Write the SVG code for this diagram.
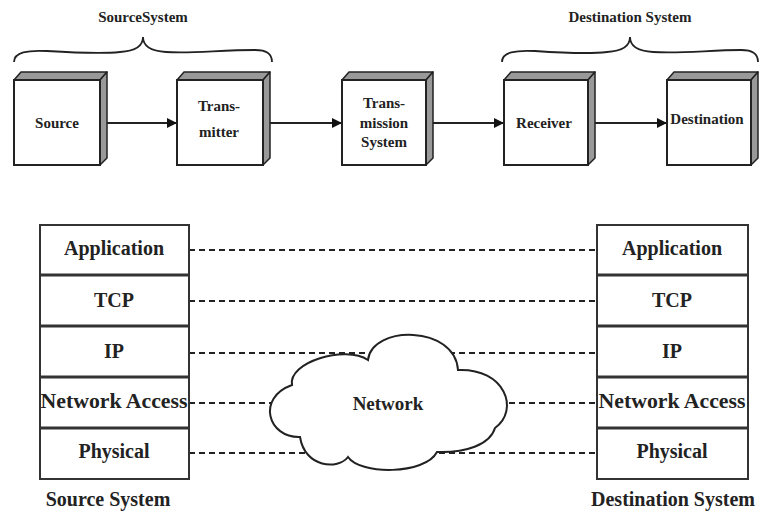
<svg xmlns="http://www.w3.org/2000/svg" width="760" height="512" viewBox="0 0 760 512">
<defs>
<style>
text{font-family:"Liberation Serif","Times New Roman",serif;font-weight:bold;fill:#222;text-anchor:middle}
.bt{font-size:15px}
.lt{font-size:20px}
.front{fill:#fff;stroke:#222;stroke-width:2}
.bev{fill:#999;stroke:#222;stroke-width:1.5;stroke-linejoin:round}
.stack{fill:#fff;stroke:#333;stroke-width:2}
.div{stroke:#333;stroke-width:3}
.dash{stroke:#222;stroke-width:2;stroke-dasharray:6 4;fill:none}
.arr{stroke:#222;stroke-width:2;fill:none}
.brace{stroke:#222;stroke-width:1.8;fill:none}
</style>
<marker id="ah" viewBox="0 0 10 10" refX="10" refY="5" markerWidth="10" markerHeight="10" markerUnits="userSpaceOnUse" orient="auto">
<path d="M0,0 L10,5 L0,10 z" fill="#111"/>
</marker>
</defs>
<rect width="760" height="512" fill="#fff"/>

<g id="connectors">
<line class="arr" x1="107" y1="123" x2="177" y2="123" marker-end="url(#ah)"/>
<line class="arr" x1="270" y1="123" x2="342" y2="123" marker-end="url(#ah)"/>
<line class="arr" x1="433" y1="123" x2="504" y2="123" marker-end="url(#ah)"/>
<line class="arr" x1="595" y1="123" x2="667" y2="123" marker-end="url(#ah)"/>
<line class="dash" x1="189" y1="250" x2="597" y2="250"/>
<line class="dash" x1="189" y1="301" x2="597" y2="301"/>
<line class="dash" x1="189" y1="353" x2="597" y2="353"/>
<line class="dash" x1="189" y1="403" x2="597" y2="403"/>
<line class="dash" x1="189" y1="453" x2="597" y2="453"/>
</g>

<g id="braces">
<path class="brace" d="M14,62 C14,52 28,50 47,51 C80,53 100,54 120,52 C136,51 143,46 143,37 C143,46 150,51 166,52 C190,54 220,50 255,50 C266,50 272,53 272,62"/>
<text x="143" y="22" class="bt">SourceSystem</text>
<path class="brace" d="M502,62 C502,52 516,50 535,51 C565,53 590,54 607,52 C623,51 630,46 630,37 C630,46 637,51 653,52 C680,54 710,50 741,50 C752,50 758,53 758,62"/>
<text x="630" y="22" class="bt">Destination System</text>
</g>

<g id="source">
<polygon class="bev" points="14,80 21,72 107,72 100,80"/>
<polygon class="bev" points="100,80 107,72 107,158 100,165"/>
<rect class="front" x="14" y="80" width="86" height="85"/>
<text x="57" y="128" class="bt">Source</text>
</g>
<g id="transmitter">
<polygon class="bev" points="177,80 184,72 270,72 263,80"/>
<polygon class="bev" points="263,80 270,72 270,158 263,165"/>
<rect class="front" x="177" y="80" width="86" height="85"/>
<text x="219" y="111" class="bt">Trans-</text>
<text x="219" y="137" class="bt">mitter</text>
</g>
<g id="transmission">
<polygon class="bev" points="342,80 349,72 433,72 426,80"/>
<polygon class="bev" points="426,80 433,72 433,158 426,165"/>
<rect class="front" x="342" y="80" width="84" height="85"/>
<text x="384" y="108" class="bt">Trans-</text>
<text x="384" y="128" class="bt">mission</text>
<text x="384" y="147" class="bt">System</text>
</g>
<g id="receiver">
<polygon class="bev" points="504,80 511,72 595,72 588,80"/>
<polygon class="bev" points="588,80 595,72 595,158 588,165"/>
<rect class="front" x="504" y="80" width="84" height="85"/>
<text x="544" y="128" class="bt">Receiver</text>
</g>
<g id="destination">
<polygon class="bev" points="667,80 674,72 758,72 751,80"/>
<polygon class="bev" points="751,80 758,72 758,158 751,165"/>
<rect class="front" x="667" y="80" width="84" height="85"/>
<text x="707" y="124" class="bt">Destination</text>
</g>

<g id="network">
<path d="M300,437 C268,438 256,398 292,385 C288,362 345,345 368,360 C372,325 455,325 458,370 C505,368 520,410 495,428 C490,445 465,453 437,452 C425,475 360,475 348,457 C338,470 305,468 300,437 Z" fill="#fff" stroke="#222" stroke-width="2"/>
<text x="388" y="410" class="lt" style="font-size:19px">Network</text>
</g>

<g id="source-stack">
<rect class="stack" x="40" y="225" width="149" height="254"/>
<line class="div" x1="40" y1="275" x2="189" y2="275"/>
<line class="div" x1="40" y1="326" x2="189" y2="326"/>
<line class="div" x1="40" y1="377" x2="189" y2="377"/>
<line class="div" x1="40" y1="428" x2="189" y2="428"/>
<text x="114" y="255" class="lt">Application</text>
<text x="114" y="307" class="lt">TCP</text>
<text x="114" y="358" class="lt">IP</text>
<text x="114" y="408" class="lt" textLength="147" lengthAdjust="spacingAndGlyphs">Network Access</text>
<text x="114" y="458" class="lt">Physical</text>
<text x="108" y="506" class="lt">Source System</text>
</g>

<g id="destination-stack">
<rect class="stack" x="597" y="225" width="151" height="254"/>
<line class="div" x1="597" y1="275" x2="748" y2="275"/>
<line class="div" x1="597" y1="326" x2="748" y2="326"/>
<line class="div" x1="597" y1="377" x2="748" y2="377"/>
<line class="div" x1="597" y1="428" x2="748" y2="428"/>
<text x="672" y="255" class="lt">Application</text>
<text x="672" y="307" class="lt">TCP</text>
<text x="672" y="358" class="lt">IP</text>
<text x="672" y="408" class="lt" textLength="147" lengthAdjust="spacingAndGlyphs">Network Access</text>
<text x="672" y="458" class="lt">Physical</text>
<text x="673" y="506" class="lt">Destination System</text>
</g>
</svg>
